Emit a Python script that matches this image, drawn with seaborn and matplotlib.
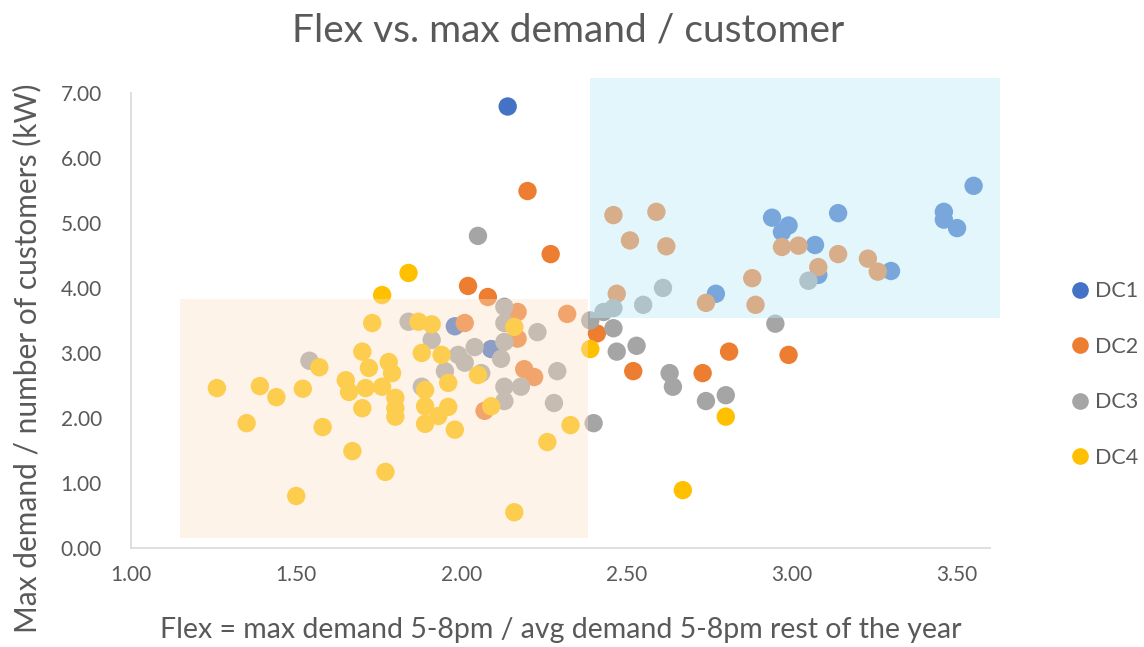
import numpy as np
import pandas as pd
import matplotlib
matplotlib.use("Agg")
import matplotlib.pyplot as plt
from matplotlib.patches import Rectangle
import seaborn as sns

# ---- data: flex ratio (x) vs. max demand per customer in kW (y) ----
dc1_x = [2.14, 1.98, 2.09, 2.77, 2.94, 2.97, 2.99, 3.07, 3.08, 3.14, 3.30, 3.46, 3.46, 3.50, 3.55]
dc1_y = [6.79, 3.41, 3.06, 3.91, 5.08, 4.86, 4.96, 4.66, 4.20, 5.15, 4.26, 5.17, 5.05, 4.92, 5.57]

dc2_x = [2.20, 2.27, 2.02, 2.08, 2.17, 2.32, 2.01, 2.17, 2.19, 2.22, 2.07, 2.41, 2.52, 2.73, 2.81,
         2.99, 2.46, 2.59, 2.51, 2.62, 2.47, 2.74, 2.88, 2.89, 2.97, 3.02, 3.08, 3.14, 3.23, 3.26]
dc2_y = [5.49, 4.52, 4.03, 3.86, 3.63, 3.60, 3.46, 3.22, 2.75, 2.63, 2.11, 3.30, 2.72, 2.69, 3.02,
         2.97, 5.12, 5.17, 4.73, 4.64, 3.91, 3.77, 4.15, 3.74, 4.63, 4.65, 4.32, 4.52, 4.45, 4.25]

dc3_x = [2.05, 2.13, 1.84, 2.13, 2.23, 1.91, 2.04, 2.13, 2.12, 1.99, 2.01, 1.95, 2.06, 2.29, 1.88,
         2.13, 2.18, 2.13, 2.28, 1.54, 2.40, 2.43, 2.46, 2.39, 2.46, 2.47, 2.53, 2.63, 2.64, 2.74,
         2.80, 2.61, 2.55, 2.95, 3.05]
dc3_y = [4.80, 3.71, 3.48, 3.46, 3.32, 3.20, 3.09, 3.17, 2.91, 2.97, 2.85, 2.72, 2.69, 2.72, 2.48,
         2.48, 2.48, 2.26, 2.23, 2.88, 1.92, 3.63, 3.69, 3.50, 3.38, 3.02, 3.11, 2.69, 2.48, 2.26,
         2.35, 4.00, 3.74, 3.45, 4.11]

dc4_x = [1.84, 1.76, 1.73, 1.87, 1.91, 2.16, 1.57, 1.70, 1.72, 1.78, 1.79, 1.65, 1.66, 1.71, 1.76,
         1.80, 1.80, 1.80, 1.70, 1.26, 1.39, 1.44, 1.52, 1.35, 1.58, 1.67, 1.77, 1.50, 1.88, 1.94,
         2.05, 1.89, 1.96, 1.89, 1.96, 1.93, 1.89, 1.98, 2.09, 2.33, 2.26, 2.16, 2.39, 2.80, 2.67]
dc4_y = [4.23, 3.89, 3.46, 3.48, 3.44, 3.40, 2.78, 3.02, 2.77, 2.86, 2.69, 2.58, 2.40, 2.46, 2.48,
         2.31, 2.15, 2.02, 2.15, 2.46, 2.49, 2.32, 2.45, 1.92, 1.86, 1.49, 1.17, 0.80, 3.00, 2.97,
         2.66, 2.43, 2.54, 2.18, 2.17, 2.03, 1.91, 1.82, 2.18, 1.89, 1.63, 0.55, 3.06, 2.02, 0.89]

series_names = ["DC1", "DC2", "DC3", "DC4"]
series_colors = ["#4472C4", "#ED7D31", "#A5A5A5", "#FFC000"]

# highlighted zones (x0, x1, y0, y1)
high_zone = (2.39, 3.63, 3.54, 7.23)
low_zone = (1.148, 2.382, 0.15, 3.83)

df = pd.concat([
    pd.DataFrame({"flex": dc1_x, "demand": dc1_y, "series": "DC1"}),
    pd.DataFrame({"flex": dc2_x, "demand": dc2_y, "series": "DC2"}),
    pd.DataFrame({"flex": dc3_x, "demand": dc3_y, "series": "DC3"}),
    pd.DataFrame({"flex": dc4_x, "demand": dc4_y, "series": "DC4"}),
], ignore_index=True)

sns.set_style("white")
plt.rcParams["font.family"] = ["Lato", "DejaVu Sans"]
text_col = "#595959"

fig = plt.figure(figsize=(11.44, 6.47), dpi=100)
ax = fig.add_axes([0.1145, 0.153, 0.751, 0.7035])

sns.scatterplot(data=df, x="flex", y="demand", hue="series", hue_order=series_names,
                palette=dict(zip(series_names, series_colors)), s=175, linewidth=0,
                alpha=1.0, ax=ax, legend=False, zorder=2)

# translucent zone overlays sit on top of the markers
for (x0, x1, y0, y1), col, a in [(high_zone, (190/255, 236/255, 250/255), 0.44),
                                 (low_zone, (250/255, 225/255, 200/255), 0.40)]:
    ax.add_patch(Rectangle((x0, y0), x1 - x0, y1 - y0, facecolor=col, alpha=a,
                           edgecolor="none", zorder=3, clip_on=False))

ax.set_xlim(1.0, 3.6)
ax.set_ylim(0, 7)
ax.set_xticks(np.arange(1.0, 3.51, 0.5))
ax.set_yticks(np.arange(0, 7.01, 1.0))
ax.xaxis.set_major_formatter(matplotlib.ticker.FormatStrFormatter("%.2f"))
ax.yaxis.set_major_formatter(matplotlib.ticker.FormatStrFormatter("%.2f"))
ax.tick_params(axis="both", length=0, labelsize=15, labelcolor=text_col)
ax.tick_params(axis="x", pad=12)
ax.tick_params(axis="y", pad=21)
ax.set_xlabel("")
ax.set_ylabel("")

for side in ["top", "right"]:
    ax.spines[side].set_visible(False)
for side in ["left", "bottom"]:
    ax.spines[side].set_color("#D9D9D9")
    ax.spines[side].set_linewidth(1.2)

fig.text(0.490, 0.026, "Flex = max demand 5-8pm / avg demand 5-8pm rest of the year",
         fontsize=20.5, color=text_col, ha="center", va="center")
fig.text(0.024, 0.447, "Max demand / number of customers (kW)", fontsize=21.5, color=text_col,
         rotation=90, ha="center", va="center")
fig.text(0.4965, 0.953, "Flex vs. max demand / customer", fontsize=28, color=text_col,
         ha="center", va="center")

handles = [plt.Line2D([], [], marker="o", linestyle="", markersize=12,
                      markerfacecolor=c, markeredgecolor="none") for c in series_colors]
fig.legend(handles, series_names, loc="center left", bbox_to_anchor=(0.916, 0.421),
           frameon=False, fontsize=15.5, labelcolor=text_col, labelspacing=1.65,
           handletextpad=0.1, handlelength=1.2)

fig.savefig("out.png", dpi=100)
